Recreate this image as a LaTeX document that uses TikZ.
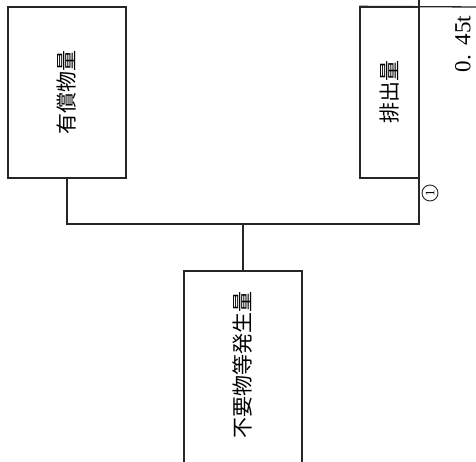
\documentclass[tikz,border=0pt]{standalone}
\usepackage{fontspec}
\usepackage{graphicx}
\newfontfamily\cjk{Noto Sans CJK JP}
\newfontfamily\serf{Liberation Serif}
\begin{document}
\begin{tikzpicture}[x=1pt,y=-1pt,line width=1.3pt,
  box/.style={draw=black!85,line width=1.3pt,inner sep=0pt},
  lbl/.style={inner sep=0pt,font=\cjk\fontsize{21}{21}\selectfont},
  conn/.style={draw=black!85,line width=1.3pt}]
\useasboundingbox (0,0) rectangle (476,461);
\fill[white] (0,0) rectangle (476,461);
% boxes
\node[box,minimum width=118pt,minimum height=171pt] (yusho) at (67,92.5) {};
\node[box,minimum width=59pt,minimum height=171pt] (haishutsu) at (389.5,92.5) {};
\node[box,minimum width=118pt,minimum height=200pt] (fuyo) at (243,371) {};
% labels
\node[lbl] (t1) at (67,92) {\rotatebox{90}{有償物量}};
\node[lbl] (t2) at (390,92) {\rotatebox{90}{排出量}};
\node[lbl] (t3) at (243,365) {\rotatebox{90}{不要物等発生量}};
\node[inner sep=0pt,font=\serf\fontsize{23}{23}\selectfont] (val) at (463,44) {\rotatebox{90}{0.\,\ 45t}};
\node[draw=black!85,circle,line width=0.9pt,minimum size=16pt,inner sep=0pt,font=\serf\fontsize{13}{13}\selectfont] (c1) at (430,193) {\rotatebox{90}{1}};
% right box edges
\coordinate (rtop) at (419,-5);
\coordinate (redge) at (480,7);
\draw[conn] (haishutsu.north west) -- (redge);
% connectors
\coordinate (j1) at (yusho.south |- 0,224);
\coordinate (j2) at (fuyo.north |- 0,224);
\coordinate (j3) at (419,224);
\draw[conn] (yusho.south) -- (j1) -- (j3) -- (rtop);
\draw[conn] (j2) -- (fuyo.north);
\end{tikzpicture}
\end{document}
